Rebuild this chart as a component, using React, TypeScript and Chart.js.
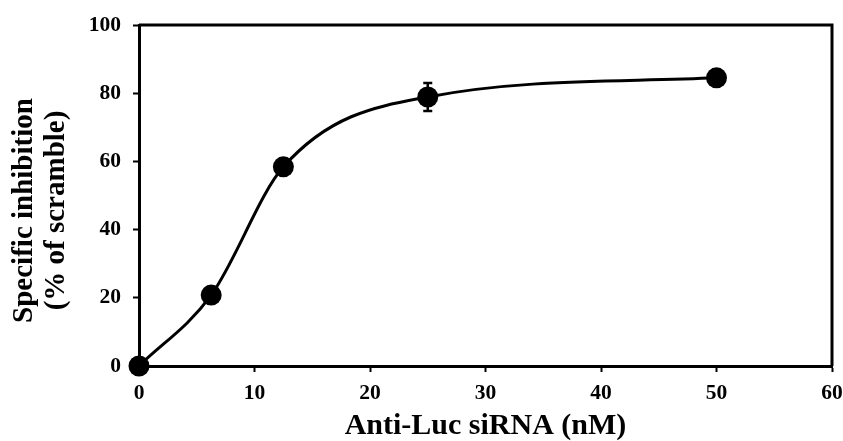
import React, { useEffect, useRef } from 'react';
import { Chart, registerables } from 'chart.js';

Chart.register(...registerables);

// ---- Data ----
const concentrations = [0, 6.25, 12.5, 25, 50];
const inhibition = [0, 20.8, 58.4, 78.9, 84.5];
const errors = [0, 0, 0, 4.1, 0];
const xTickValues = [0, 10, 20, 30, 40, 50, 60];
const yTickValues = [0, 20, 40, 60, 80, 100];
const xTitle = 'Anti-Luc siRNA (nM)';
const yTitle = ['Specific inhibition', '(% of scramble)'];

const FONT = "'Liberation Serif', 'Times New Roman', serif";

const errorBarPlugin = {
  id: 'errorBars',
  afterDatasetsDraw(chart: any) {
    const { ctx, scales } = chart;
    const x = scales.x, y = scales.y;
    ctx.save();
    ctx.strokeStyle = '#000';
    ctx.lineWidth = 2.5;
    concentrations.forEach((c, i) => {
      const e = errors[i];
      if (!e) return;
      const px = x.getPixelForValue(c);
      const top = y.getPixelForValue(inhibition[i] + e);
      const bot = y.getPixelForValue(inhibition[i] - e);
      ctx.beginPath();
      ctx.moveTo(px, top);
      ctx.lineTo(px, bot);
      ctx.moveTo(px - 4.5, top);
      ctx.lineTo(px + 4.5, top);
      ctx.moveTo(px - 4.5, bot);
      ctx.lineTo(px + 4.5, bot);
      ctx.stroke();
    });
    ctx.restore();
  },
};

const framePlugin = {
  id: 'frame',
  beforeDatasetsDraw(chart: any) {
    const { ctx, chartArea } = chart;
    ctx.save();
    ctx.strokeStyle = '#000';
    ctx.lineWidth = 3;
    ctx.beginPath();
    ctx.moveTo(chartArea.left, chartArea.top);
    ctx.lineTo(chartArea.right, chartArea.top);
    ctx.lineTo(chartArea.right, chartArea.bottom);
    ctx.stroke();
    ctx.restore();
  },
  afterDraw(chart: any) {
    const { ctx, chartArea } = chart;
    ctx.save();
    ctx.fillStyle = '#000';
    ctx.font = `bold 29px ${FONT}`;
    ctx.textAlign = 'center';
    ctx.textBaseline = 'middle';
    const cy = (chartArea.top + chartArea.bottom) / 2 + 15;
    const xs = [25, 57];
    yTitle.forEach((line, i) => {
      ctx.save();
      ctx.translate(xs[i], cy);
      ctx.rotate(-Math.PI / 2);
      ctx.fillText(line, 0, 0);
      ctx.restore();
    });
    ctx.restore();
  },
};

export default function App() {
  const ref = useRef<HTMLCanvasElement>(null);
  useEffect(() => {
    document.body.style.margin = '0';
    const canvas = ref.current!;
    const chart = new Chart(canvas, {
      type: 'line',
      data: {
        datasets: [
          {
            data: concentrations.map((c, i) => ({ x: c, y: inhibition[i] })),
            borderColor: '#000',
            backgroundColor: '#000',
            borderWidth: 3,
            pointRadius: 10.5,
            pointBackgroundColor: '#000',
            pointBorderColor: '#000',
            pointBorderWidth: 0,
            cubicInterpolationMode: 'monotone',
            clip: false as any,
          },
        ],
      },
      options: {
        animation: false,
        responsive: false,
        maintainAspectRatio: false,
        layout: { padding: { top: 25, right: 11, left: 0, bottom: 0 } },
        plugins: { legend: { display: false }, tooltip: { enabled: false } },
        scales: {
          x: {
            type: 'linear',
            min: 0,
            max: 60,
            afterBuildTicks: (s: any) => {
              s.ticks = xTickValues.map((v) => ({ value: v }));
            },
            afterFit: (s: any) => {
              s.height = 75;
              s.paddingLeft = 0;
              s.paddingRight = 0;
            },
            ticks: {
              color: '#000',
              font: { family: FONT, size: 21.5, weight: 'bold' },
              padding: 9,
              maxRotation: 0,
            },
            grid: {
              drawOnChartArea: false,
              drawTicks: true,
              tickLength: 6,
              tickWidth: 2,
              tickColor: '#000',
            },
            border: { color: '#000', width: 3 },
            title: {
              display: true,
              text: xTitle,
              color: '#000',
              font: { family: FONT, size: 30, weight: 'bold', lineHeight: 1 },
              padding: { top: 0, bottom: 0 },
            },
          },
          y: {
            type: 'linear',
            min: 0,
            max: 100,
            afterBuildTicks: (s: any) => {
              s.ticks = yTickValues.map((v) => ({ value: v }));
            },
            afterFit: (s: any) => {
              s.width = 139;
              s.paddingTop = 0;
              s.paddingBottom = 0;
            },
            ticks: {
              color: '#000',
              font: { family: FONT, size: 21.5, weight: 'bold' },
              padding: 12,
            },
            grid: {
              drawOnChartArea: false,
              drawTicks: true,
              tickLength: 6,
              tickWidth: 2,
              tickColor: '#000',
            },
            border: { color: '#000', width: 3 },
          },
        },
      },
      plugins: [framePlugin, errorBarPlugin],
    } as any);
    return () => chart.destroy();
  }, []);
  return (
    <div style={{ width: 843, height: 441, background: '#fff' }}>
      <canvas ref={ref} width={843} height={441} style={{ display: 'block' }} />
    </div>
  );
}
